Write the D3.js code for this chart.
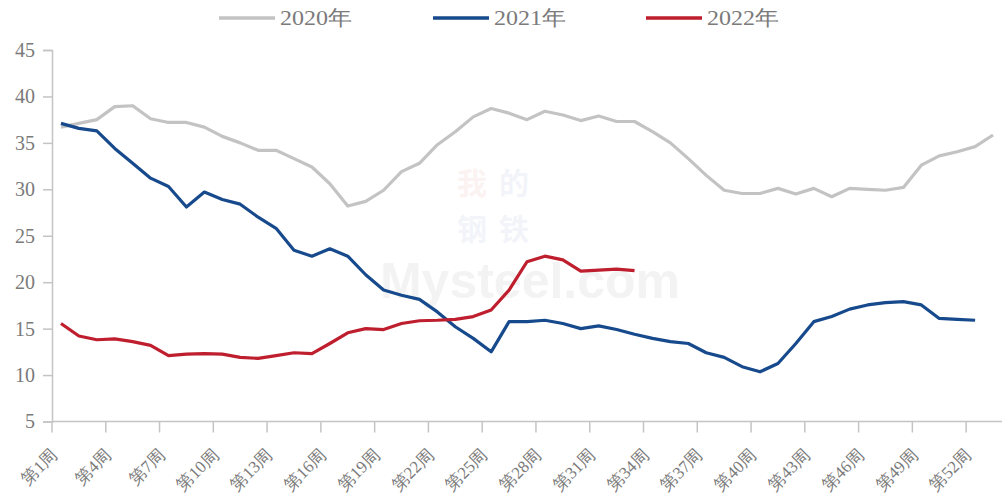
<!DOCTYPE html>
<html><head><meta charset="utf-8">
<script src="https://cdn.jsdelivr.net/npm/d3@7/dist/d3.min.js"></script>
<style>body{margin:0;background:#fff}svg{display:block}</style>
</head><body>
<script>
const weeks = d3.range(1, 54);
const tickWeeks = [1,4,7,10,13,16,19,22,25,28,31,34,37,40,43,46,49,52];
const yTicks = [5,10,15,20,25,30,35,40,45];
const seriesNames = ["2020年","2021年","2022年"];
const seriesColors = ["#c3c3c3","#174a8c","#be1e2d"];
const s2020 = [36.7,37.1,37.5,38.9,39.0,37.6,37.2,37.2,36.7,35.7,35.0,34.2,34.2,33.3,32.4,30.6,28.2,28.7,29.9,31.9,32.8,34.8,36.2,37.8,38.7,38.2,37.5,38.4,38.0,37.4,37.9,37.3,37.3,36.2,35.0,33.3,31.5,29.9,29.55,29.55,30.1,29.5,30.1,29.2,30.1,30.0,29.9,30.2,32.6,33.6,34.05,34.6,35.85];
const s2021 = [37.1,36.56,36.3,34.4,32.8,31.2,30.3,28.1,29.7,28.9,28.4,27.0,25.8,23.45,22.8,23.6,22.8,20.8,19.15,18.6,18.15,16.8,15.2,13.95,12.5,15.75,15.75,15.9,15.55,15.0,15.3,14.9,14.4,13.95,13.6,13.4,12.4,11.9,10.9,10.35,11.25,13.4,15.75,16.3,17.1,17.55,17.8,17.9,17.55,16.1,16.0,15.9];
const s2022 = [15.55,14.2,13.8,13.9,13.6,13.2,12.1,12.25,12.3,12.25,11.9,11.8,12.1,12.4,12.3,13.4,14.55,15.0,14.9,15.55,15.85,15.9,16.0,16.3,17.0,19.15,22.2,22.8,22.4,21.2,21.3,21.4,21.25];
const allSeries = [s2020, s2021, s2022];

const W = 1003, H = 497;
const svg = d3.select("body").append("svg").attr("width", W).attr("height", H);
const x = d3.scaleBand().domain(weeks).range([52, 1002]).padding(0);
const y = d3.scaleLinear().domain([5, 45]).range([421.5, 50]);
const axisColor = "#c4c4c4", textColor = "#7a7a7a";
const font = "'Liberation Serif','DejaVu Serif',serif";

// watermark
const wm = svg.append("g").attr("opacity", 0.06);
wm.append("text").attr("x", 530).attr("y", 298).attr("text-anchor","middle")
  .attr("font-family","Arial, sans-serif").attr("font-size", 50).attr("font-weight","bold")
  .attr("fill","#444").text("Mysteel.com");
[["我",472,194,"#c33"],["的",514,194,"#35a"],["钢",472,240,"#35a"],["铁",514,240,"#35a"]].forEach(c => {
  wm.append("text").attr("x", c[1]).attr("y", c[2]).attr("text-anchor","middle")
    .attr("font-family","'Noto Sans CJK SC',sans-serif").attr("font-size", 30).attr("font-weight","bold")
    .attr("fill", c[3]).text(c[0]);
});

// Y axis
const yAxis = svg.append("g").attr("transform","translate(52,0)")
  .call(d3.axisLeft(y).tickValues(yTicks).tickSize(9).tickPadding(8));
yAxis.select(".domain").attr("stroke", axisColor).attr("stroke-width", 1.5);
yAxis.selectAll(".tick line").attr("stroke", axisColor).attr("stroke-width", 1.5);
yAxis.selectAll(".tick text").attr("fill", textColor).attr("font-family", font).attr("font-size", 20);

// X axis
const xAxisY = y(5);
const xg = svg.append("g").attr("transform", `translate(0,${xAxisY})`);
xg.append("line").attr("x1", 52).attr("x2", 1002).attr("y1", 0).attr("y2", 0)
  .attr("stroke", axisColor).attr("stroke-width", 1.5);
xg.selectAll("line.t").data(tickWeeks).join("line").attr("class","t")
  .attr("x1", d => x(d)).attr("x2", d => x(d)).attr("y1", 0).attr("y2", 11)
  .attr("stroke", axisColor).attr("stroke-width", 1.5);
xg.selectAll("text").data(tickWeeks).join("text")
  .attr("transform", d => `translate(${x(d) + 2},30) rotate(-45)`)
  .attr("text-anchor","end").attr("dy","0.35em")
  .attr("fill", textColor).attr("font-family", font).attr("font-size", 17)
  .text(d => `第${d}周`);

// Lines
const line = d3.line().x((d,i) => x(weeks[i]) + x.bandwidth()/2).y(d => y(d));
allSeries.forEach((s, k) => {
  svg.append("path").datum(s).attr("d", line).attr("fill","none")
    .attr("stroke", seriesColors[k]).attr("stroke-width", 3.2).attr("stroke-linejoin","round");
});

// Legend
const legX = [219, 433, 646];
const lg = svg.append("g");
seriesNames.forEach((n, k) => {
  lg.append("line").attr("x1", legX[k]).attr("x2", legX[k] + 56).attr("y1", 18).attr("y2", 18)
    .attr("stroke", seriesColors[k]).attr("stroke-width", 3.5);
  lg.append("text").attr("x", legX[k] + 61).attr("y", 18).attr("dy","0.35em")
    .attr("fill", textColor).attr("font-family", font).attr("font-size", 21)
    .attr("textLength", 72).attr("lengthAdjust","spacingAndGlyphs").text(n);
});
</script>
</body></html>
